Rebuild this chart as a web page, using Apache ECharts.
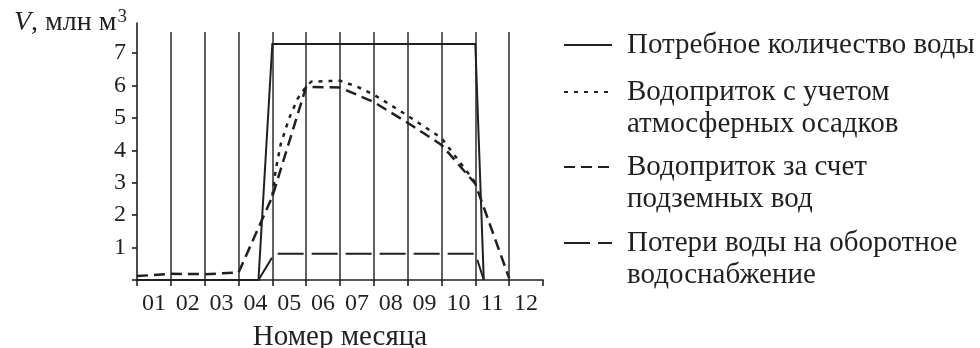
<!DOCTYPE html>
<html>
<head>
<meta charset="utf-8">
<script src="https://cdn.jsdelivr.net/npm/echarts@6/dist/echarts.min.js"></script>
<style>
  html, body { margin: 0; padding: 0; background: #ffffff; }
  #chart { width: 980px; height: 348px; }
</style>
</head>
<body>
<div id="chart"></div>
<script>
// ---- data ----
const months = ['01', '02', '03', '04', '05', '06', '07', '08', '09', '10', '11', '12'];
const monthBoundaries = [0, 1, 2, 3, 4, 5, 6, 7, 8, 9, 10, 11, 12];
const monthCenters = [0.5, 1.5, 2.5, 3.5, 4.5, 5.5, 6.5, 7.5, 8.5, 9.5, 10.5, 11.5];
const yTickValues = [0, 1, 2, 3, 4, 5, 6, 7];
const yLabelValues = [1, 2, 3, 4, 5, 6, 7];

const seriesNames = [
  'Потребное количество воды',
  'Водоприток с учетом атмосферных осадков',
  'Водоприток за счет подземных вод',
  'Потери воды на оборотное водоснабжение'
];
const legendLines = [
  ['Потребное количество воды'],
  ['Водоприток с учетом', 'атмосферных осадков'],
  ['Водоприток за счет', 'подземных вод'],
  ['Потери воды на оборотное', 'водоснабжение']
];

// [month position, volume]
const demand = [[0, 0], [3.59, 0], [4.0, 7.28], [10.0, 7.28], [10.25, 0]];
const inflowPrecip = [[4.0, 2.6], [4.1, 3.4], [4.25, 4.2], [4.5, 5.0], [4.75, 5.6], [5.0, 5.97],
                      [5.15, 6.12], [6.0, 6.15], [6.5, 5.97], [7.0, 5.72], [8.0, 5.07], [9.0, 4.38], [10.0, 3.0]];
const inflowGround = [[0, 0.12], [1, 0.19], [2, 0.18], [3, 0.23], [4, 2.57], [5, 5.96], [6, 5.94],
                      [7, 5.49], [8, 4.85], [9, 4.17], [10, 2.97], [11, 0.05]];
const losses = [[3.59, 0], [4.06, 0.81], [10.0, 0.81], [10.25, 0]];

// ---- styles ----
const INK = '#231f20';
const SERIF = '"Liberation Serif", "DejaVu Serif", serif';

const chart = echarts.init(document.getElementById('chart'), null, { renderer: 'canvas' });

const legendCenters = [45, 92, 167, 243];
const LH = 32;
function makeLegend(i) {
  const lines = legendLines[i];
  const multi = lines.length > 1;
  return {
    data: [seriesNames[i]],
    left: 563,
    top: multi ? legendCenters[i] - LH * 1.5 : legendCenters[i] - LH / 2,
    orient: 'vertical',
    padding: 0,
    itemWidth: 48,
    itemHeight: 14,
    selectedMode: false,
    itemStyle: { color: 'rgba(0,0,0,0)', borderColor: 'rgba(0,0,0,0)', borderWidth: 0, opacity: 0 },
    formatter: () => (multi ? ' \n' : '') + lines.join('\n'),
    textStyle: {
      fontFamily: SERIF,
      fontSize: 29,
      color: INK,
      lineHeight: LH,
      padding: [0, 0, 0, 10]
    }
  };
}

function lineSeries(i, data, type, width) {
  return {
    name: seriesNames[i],
    type: 'line',
    xAxisIndex: 0,
    yAxisIndex: 0,
    data: data,
    symbol: 'none',
    silent: true,
    lineStyle: { color: INK, width: width, type: type, cap: 'butt', join: 'miter' },
    itemStyle: { color: INK }
  };
}

const option = {
  animation: false,
  backgroundColor: '#ffffff',
  grid: [
    { left: 137, right: 437, top: 23, bottom: 68, containLabel: false, outerBoundsMode: 'none' },
    { left: 137, right: 437, top: 32, bottom: 68, containLabel: false, outerBoundsMode: 'none' }
  ],
  xAxis: [
    {
      type: 'value', gridIndex: 0, min: 0, max: 12, interval: 1,
      axisLine: { show: true, lineStyle: { color: INK, width: 1.6 } },
      axisTick: { show: true, inside: false, length: 6, customValues: monthBoundaries,
                  lineStyle: { color: INK, width: 1.6 } },
      axisLabel: {
        show: true, customValues: monthCenters, margin: 12,
        formatter: (v) => months[Math.round(v - 0.5)],
        fontFamily: SERIF, fontSize: 24, color: INK
      },
      splitLine: { show: false },
      name: 'Номер месяца',
      nameLocation: 'middle',
      nameGap: 39,
      nameTextStyle: { fontFamily: SERIF, fontSize: 29, color: INK, lineHeight: 32 }
    },
    {
      type: 'value', gridIndex: 1, min: 0, max: 12, interval: 1,
      axisLine: { show: false }, axisTick: { show: false }, axisLabel: { show: false },
      splitLine: { show: true, showMinLine: false, showMaxLine: false,
                   lineStyle: { color: '#2e2b2c', width: 1.5 } }
    }
  ],
  yAxis: [
    {
      type: 'value', gridIndex: 0, min: 0, max: 7.93, interval: 1,
      axisLine: { show: true, lineStyle: { color: INK, width: 1.6 } },
      axisTick: { show: true, inside: false, length: 5, customValues: yTickValues,
                  lineStyle: { color: INK, width: 1.6 } },
      axisLabel: { show: true, customValues: yLabelValues, margin: 11,
                   fontFamily: SERIF, fontSize: 24, color: INK },
      splitLine: { show: false },
      name: '{i|V}{n|, млн м}{s|3}',
      nameLocation: 'end',
      nameGap: 0,
      nameTextStyle: {
        align: 'right', verticalAlign: 'middle', padding: [0, 10, 0, 0],
        rich: {
          i: { fontFamily: SERIF, fontSize: 28, fontStyle: 'italic', color: INK, lineHeight: 30 },
          n: { fontFamily: SERIF, fontSize: 28, color: INK, lineHeight: 30 },
          s: { fontFamily: SERIF, fontSize: 19, color: INK, lineHeight: 19, verticalAlign: 'top', padding: [0, 0, 0, 1] }
        }
      }
    },
    { type: 'value', gridIndex: 1, min: 0, max: 7.65, show: false, splitLine: { show: false } }
  ],
  legend: [makeLegend(0), makeLegend(1), makeLegend(2), makeLegend(3)],
  series: [
    lineSeries(3, losses, [26, 8], 2),
    lineSeries(1, inflowPrecip, [4, 6], 2.5),
    lineSeries(2, inflowGround, [11, 6], 2.5),
    lineSeries(0, demand, 'solid', 2)
  ]
};

chart.setOption(option);
</script>
</body>
</html>
